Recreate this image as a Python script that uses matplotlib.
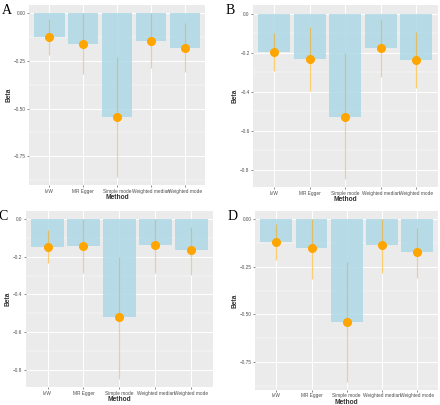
import matplotlib.pyplot as plt
import numpy as np

plt.rcParams["font.family"] = ["Liberation Sans", "DejaVu Sans"]

methods = ["IVW", "MR Egger", "Simple mode", "Weighted median", "Weighted mode"]

beta_a = [-0.123, -0.158, -0.543, -0.144, -0.179]
low_a = [-0.219, -0.319, -0.859, -0.286, -0.307]
high_a = [-0.030, 0.000, -0.231, 0.000, -0.049]

beta_b = [-0.196, -0.233, -0.528, -0.175, -0.238]
low_b = [-0.293, -0.395, -0.846, -0.323, -0.383]
high_b = [-0.102, -0.068, -0.204, -0.029, -0.097]

beta_c = [-0.148, -0.141, -0.521, -0.140, -0.166]
low_c = [-0.236, -0.284, -0.850, -0.284, -0.295]
high_c = [-0.059, 0.000, -0.201, 0.000, -0.041]

beta_d = [-0.119, -0.154, -0.540, -0.137, -0.175]
low_d = [-0.214, -0.315, -0.855, -0.284, -0.307]
high_d = [-0.026, 0.000, -0.224, 0.000, -0.049]

panels = [
    ("A", beta_a, low_a, high_a, [0.066, 0.543, 0.400, 0.444], 0.25),
    ("B", beta_b, low_b, high_b, [0.575, 0.538, 0.420, 0.449], 0.2),
    ("C", beta_c, low_c, high_c, [0.059, 0.044, 0.425, 0.435], 0.2),
    ("D", beta_d, low_d, high_d, [0.580, 0.037, 0.416, 0.442], 0.25),
]

fig = plt.figure(figsize=(4.4, 4.05), dpi=100)

for letter, beta, low, high, pos, step in panels:
    ax = fig.add_axes(pos)
    ax.set_facecolor("#EBEBEB")
    x = np.arange(len(methods))
    ax.bar(x, beta, width=0.9, color="#ADD8E6", alpha=0.85, zorder=2)
    ax.vlines(x, low, high, color="#FFA500", alpha=0.55, lw=0.8, zorder=3)
    ax.plot(x, beta, "o", color="#FFA500", ms=5.5, mec="#FFA500", zorder=4)

    lo = min(min(low), 0)
    rng = 0 - lo
    ax.set_ylim(lo - 0.05 * rng, 0.05 * rng)
    ax.set_xlim(-0.6, len(methods) - 0.4)

    majors = np.arange(0, lo - step, -step)
    majors = majors[majors >= lo - 0.05 * rng]
    ax.set_yticks(majors)
    fmt = "{:.2f}" if step == 0.25 else "{:.1f}"
    labels = []
    for v in majors:
        s = fmt.format(abs(v))
        labels.append(s if v > -1e-9 else "\u2212" + s)
    ax.set_yticklabels(labels)
    minors = majors - step / 2
    minors = minors[minors >= lo - 0.05 * rng]
    ax.set_yticks(minors, minor=True)
    ax.set_xticks(x)
    ax.set_xticklabels(methods)

    ax.grid(True, which="major", color="white", lw=0.7, zorder=0)
    ax.grid(True, which="minor", axis="y", color="white", lw=0.35, zorder=0)
    ax.set_axisbelow(True)
    for s in ax.spines.values():
        s.set_visible(False)
    ax.tick_params(which="major", length=1.5, width=0.4, color="#333333",
                   labelsize=3.4, labelcolor="#4D4D4D", pad=1)
    ax.tick_params(which="minor", length=0)

    ax.set_xlabel("Method", fontsize=4.8, fontweight="bold", color="#333333", labelpad=0.5)
    ax.set_ylabel("Beta", fontsize=4.8, fontweight="bold", color="#333333", labelpad=1)

    fx = pos[0] - 0.062
    fy = pos[1] + pos[3] + 0.002
    fig.text(fx, fy, letter, fontsize=10, family="Liberation Serif", va="top", ha="left")

fig.savefig("out.png", dpi=100)
